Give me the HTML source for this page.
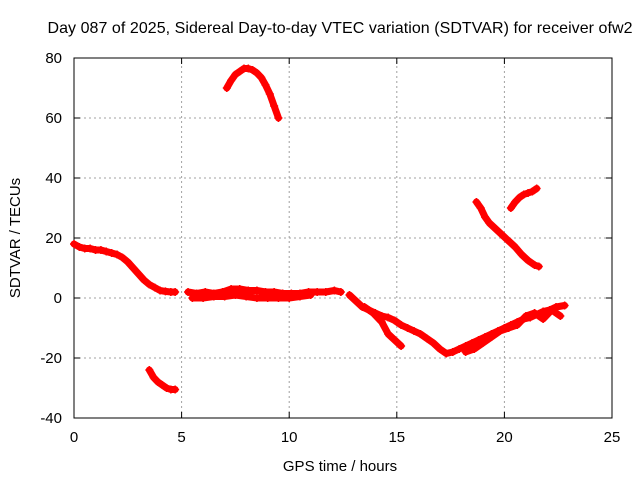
<!DOCTYPE html>
<html><head><meta charset="utf-8"><style>
body{margin:0;background:#fff;}
svg{display:block;font-family:"Liberation Sans",sans-serif;}
</style></head><body>
<svg id="chart" width="640" height="480">
<rect width="640" height="480" fill="#fff"/>
<text x="340" y="33" font-size="16" text-anchor="middle" textLength="585">Day 087 of 2025, Sidereal Day-to-day VTEC variation (SDTVAR) for receiver ofw2</text>
<g id="grid"></g><g id="axes"></g><g id="marks"></g>
<text x="340" y="471" font-size="15" text-anchor="middle">GPS time / hours</text>
<text transform="translate(20,238) rotate(-90)" font-size="15" text-anchor="middle">SDTVAR / TECUs</text>
</svg>
<script>
const xTicks=[0,5,10,15,20,25];
const yTicks=[-40,-20,0,20,40,60,80];
const s1T=[0,0.25,0.5,0.75,1,1.25,1.5,1.75,2,2.25,2.5,2.75,3,3.25,3.5,3.75,4,4.25,4.5,4.7];
const s1V=[18,17,16.5,16.5,16,16,15.5,15,14.5,13.5,12,10,8,6,4.5,3.5,2.5,2.2,2,2];
const s2T=[5.3,5.7,6.1,6.5,6.9,7.3,7.7,8.1,8.5,8.9,9.3,9.7,10.1,10.5,10.9,11.3,11.7,12.1,12.4];
const s2V=[2,1.5,2,1.5,2,3,3,2.5,2.5,2,2,1.5,1.5,1.5,2,2,2,2.5,2];
const s3T=[5.5,6,6.5,7,7.5,8,8.5,9,9.5,10,10.5,11];
const s3V=[0,0,0.5,0.5,1,0.5,0,0,0,0,0.5,1];
const s4T=[12.8,13.1,13.4,13.7,14,14.3,14.6,14.9,15.2,15.5,15.8,16.1,16.4,16.7,17,17.3,17.6];
const s4V=[1,-1,-3,-4,-5,-6,-6.5,-7.5,-9,-10,-11,-12,-13.5,-15,-17,-18.5,-18];
const s5T=[13.5,13.9,14.3,14.6,14.9,15.2];
const s5V=[-3,-5,-8,-12,-14,-16];
const s6T=[17.6,17.9,18.2,18.5,18.8,19.1,19.4,19.7,20,20.3,20.6,20.9,21.2,21.5,21.8,22.1,22.4,22.8];
const s6V=[-18,-17,-16,-15,-14,-13,-12,-11,-10,-9,-8,-7,-6.5,-5.5,-4.5,-4,-3,-2.5];
const s7T=[18.2,18.6,19,19.4,19.8,20.2,20.6,21,21.4,21.8,22.2,22.6];
const s7V=[-18,-17,-15,-13,-11,-10,-9,-6,-5,-7,-4,-6];
const s8T=[7.1,7.3,7.5,7.7,7.9,8.1,8.3,8.5,8.7,8.9,9.1,9.3,9.5];
const s8V=[70,72.5,74.5,75.5,76.5,76.5,76,75,73.5,71,68,64,60];
const s9T=[3.5,3.7,3.9,4.1,4.3,4.5,4.7];
const s9V=[-24,-26.5,-28,-29,-30,-30.5,-30.5];
const s10T=[18.7,18.9,19.1,19.3,19.6,19.9,20.2,20.5,20.8,21.1,21.4,21.6];
const s10V=[32,30,27,25,23,21,19,17,14.5,12.5,11,10.5];
const s11T=[20.3,20.5,20.7,20.9,21.1,21.3,21.5];
const s11V=[30,32,33.5,34.5,35,35.5,36.5];
const series=[[s1T,s1V],[s2T,s2V],[s3T,s3V],[s4T,s4V],[s5T,s5V],[s6T,s6V],[s7T,s7V],[s8T,s8V],[s9T,s9V],[s10T,s10V],[s11T,s11V]];
const X0=74,X1=612,Y0=418,Y1=58;
const xs=v=>X0+(v-0)/25*(X1-X0);
const ys=v=>Y0-(v+40)/120*(Y0-Y1);
const NS="http://www.w3.org/2000/svg";
const mk=(t,a,p)=>{const e=document.createElementNS(NS,t);for(const k in a)e.setAttribute(k,a[k]);p.appendChild(e);return e;};
const grid=document.getElementById('grid'),axes=document.getElementById('axes'),marks=document.getElementById('marks');
xTicks.forEach(v=>{const x=xs(v);
 if(v>0&&v<25){const g=mk('line',{x1:x,x2:x,y1:Y0,y2:Y1,stroke:'#a0a0a0','stroke-dasharray':'2,3','stroke-width':1},grid);}
 mk('line',{x1:x,x2:x,y1:Y0,y2:Y0-6,stroke:'#000'},axes);mk('line',{x1:x,x2:x,y1:Y1,y2:Y1+6,stroke:'#000'},axes);
 const t=mk('text',{x:x,y:Y0+24,'font-size':15,'text-anchor':'middle'},axes);t.textContent=v;
 });
yTicks.forEach(v=>{const y=ys(v);
 if(v>-40&&v<80){const g=mk('line',{x1:X0,x2:X1,y1:y,y2:y,stroke:'#a0a0a0','stroke-dasharray':'2,3','stroke-width':1},grid);}
 mk('line',{x1:X0,x2:X0+6,y1:y,y2:y,stroke:'#000'},axes);mk('line',{x1:X1,x2:X1-6,y1:y,y2:y,stroke:'#000'},axes);
 const t=mk('text',{x:X0-12,y:y+5,'font-size':15,'text-anchor':'end'},axes);t.textContent=v;
 });
const fr=mk('rect',{x:X0,y:Y1,width:X1-X0,height:Y0-Y1,fill:'none',stroke:'#000'},axes);

series.forEach(([T,V])=>{
 const pl=mk('polyline',{points:T.map((t,i)=>xs(t)+','+ys(V[i])).join(' '),fill:'none',stroke:'#f00','stroke-width':7,'stroke-linejoin':'round','stroke-linecap':'round'},marks);
 
 T.forEach((t,i)=>{const x=xs(t),y=ys(V[i]);
  const p=mk('path',{d:`M${x-4},${y}h8M${x},${y-4}v8`,stroke:'#f00','stroke-width':1.5},marks);
  });
});
</script>
</body></html>
